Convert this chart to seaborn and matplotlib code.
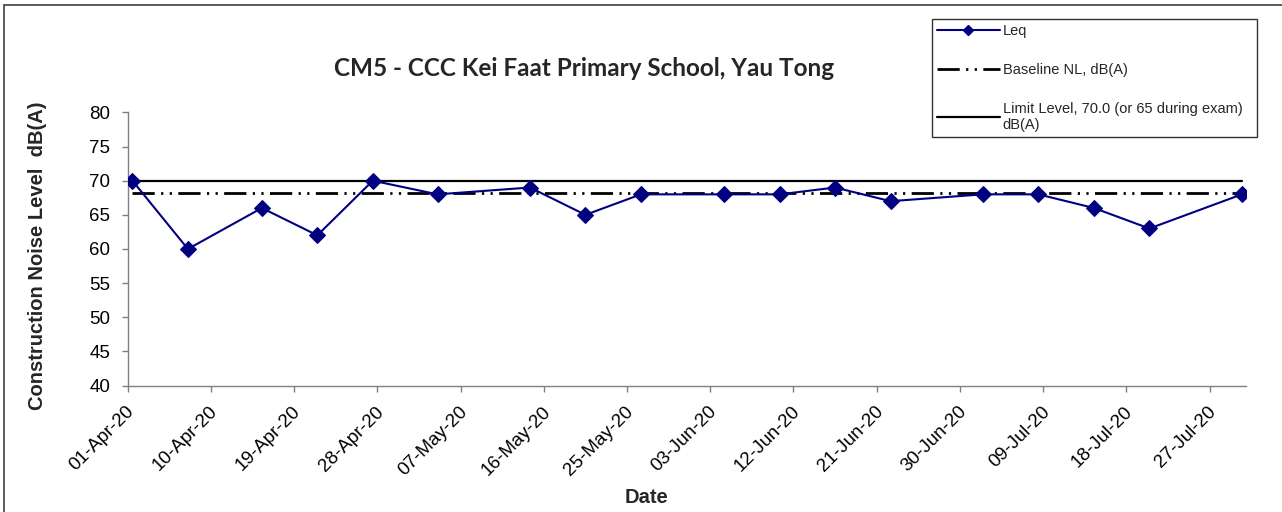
import matplotlib
matplotlib.use("Agg")
import matplotlib.pyplot as plt
import matplotlib.dates as mdates
from matplotlib.patches import Rectangle
from matplotlib.lines import Line2D
from matplotlib.transforms import ScaledTranslation
import seaborn as sns
import pandas as pd

# Leq readings at CM5
dates = ["2020-04-01", "2020-04-07", "2020-04-15", "2020-04-21", "2020-04-27",
         "2020-05-04", "2020-05-14", "2020-05-20", "2020-05-26", "2020-06-04",
         "2020-06-10", "2020-06-16", "2020-06-22", "2020-07-02", "2020-07-08",
         "2020-07-14", "2020-07-20", "2020-07-30"]
leq = [70, 60, 66, 62, 70, 68, 69, 65, 68, 68, 68, 69, 67, 68, 68, 66, 63, 68]
baseline_nl = 68.2
limit_level = 70.0

x_start, x_end = "2020-04-01", "2020-07-31"
y_ticks = [40, 45, 50, 55, 60, 65, 70, 75, 80]

sns.set_style("ticks")
plt.rcParams["font.family"] = ["Liberation Sans", "DejaVu Sans"]

df = pd.DataFrame({"date": pd.to_datetime(dates), "leq": leq})
# Excel date axis puts each point in the middle of its day
df["xpos"] = df["date"] + pd.Timedelta(hours=12)

fig = plt.figure(figsize=(12.82, 5.12), dpi=100)
ax = fig.add_axes([0.0997, 0.2469, 0.8726, 0.5336])

line_ends = [df["xpos"].iloc[0], df["xpos"].iloc[-1]]
dashdotdot = (0, (8, 2.3, 0.8, 2.3, 0.8, 2.3))
ax.plot(line_ends, [limit_level, limit_level], color="black", lw=1.6, zorder=2)
ax.plot(line_ends, [baseline_nl, baseline_nl], color="black", lw=2,
        linestyle=dashdotdot, zorder=2)
sns.lineplot(data=df, x="xpos", y="leq", ax=ax, color="#000080", lw=1.5,
             marker="D", markersize=8, markeredgecolor="#000080", zorder=3,
             legend=False)

ax.set_xlim(pd.Timestamp(x_start), pd.Timestamp(x_end))
ax.set_ylim(40, 80)
ax.set_yticks(y_ticks)
ax.set_xticks(pd.date_range(x_start, x_end, freq="9D"))
ax.xaxis.set_major_formatter(mdates.DateFormatter("%d-%b-%y"))
ax.set_xlabel("")
ax.set_ylabel("")
ax.tick_params(axis="both", labelsize=13.5, colors="#808080", labelcolor="black",
               length=4, width=1)
ax.tick_params(axis="y", pad=8.5)
ax.tick_params(axis="x", pad=13)
shift = ScaledTranslation(4 / 100, 0, fig.dpi_scale_trans)
for lab in ax.get_xticklabels():
    lab.set_rotation(45)
    lab.set_ha("right")
    lab.set_va("center")
    lab.set_rotation_mode("anchor")
    lab.set_transform(lab.get_transform() + shift)
sns.despine(ax=ax)
for side in ["left", "bottom"]:
    ax.spines[side].set_color("#808080")
    ax.spines[side].set_linewidth(1)

fig.text(0.4555, 0.867, "CM5 - CCC Kei Faat Primary School, Yau Tong",
         ha="center", va="center", fontsize=17.5, fontweight="bold",
         family=["Lato", "DejaVu Sans"])
fig.text(0.0293, 0.5, "Construction Noise Level  dB(A)", rotation=90,
         ha="center", va="center", fontsize=14.5, fontweight="bold")
fig.text(0.504, 0.029, "Date", ha="center", va="center", fontsize=14.5,
         fontweight="bold")

handles = [
    Line2D([], [], color="#000080", lw=1.5, marker="D", markersize=5),
    Line2D([], [], color="black", lw=2, linestyle=dashdotdot),
    Line2D([], [], color="black", lw=1.6),
]
labels = ["Leq", "Baseline NL, dB(A)", "Limit Level, 70.0 (or 65 during exam)\ndB(A)"]
leg = fig.legend(handles, labels, loc="upper left",
                 bbox_to_anchor=(932 / 1282, 1 - 135 / 512, 325 / 1282, 116 / 512),
                 mode="expand", borderaxespad=0,
                 fontsize=10.5, frameon=True, fancybox=False, shadow=False,
                 handlelength=4.3, handletextpad=0.2, labelspacing=1.7,
                 borderpad=0.35, numpoints=1)
leg.get_frame().set_edgecolor("black")
leg.get_frame().set_linewidth(1)

# outer chart border
fig.add_artist(Rectangle((4 / 1282, -0.1), 1.2, 1.1 - 5 / 512,
                         transform=fig.transFigure, fill=False,
                         edgecolor="#404040", lw=1.2))

fig.savefig("out.png", dpi=100)
